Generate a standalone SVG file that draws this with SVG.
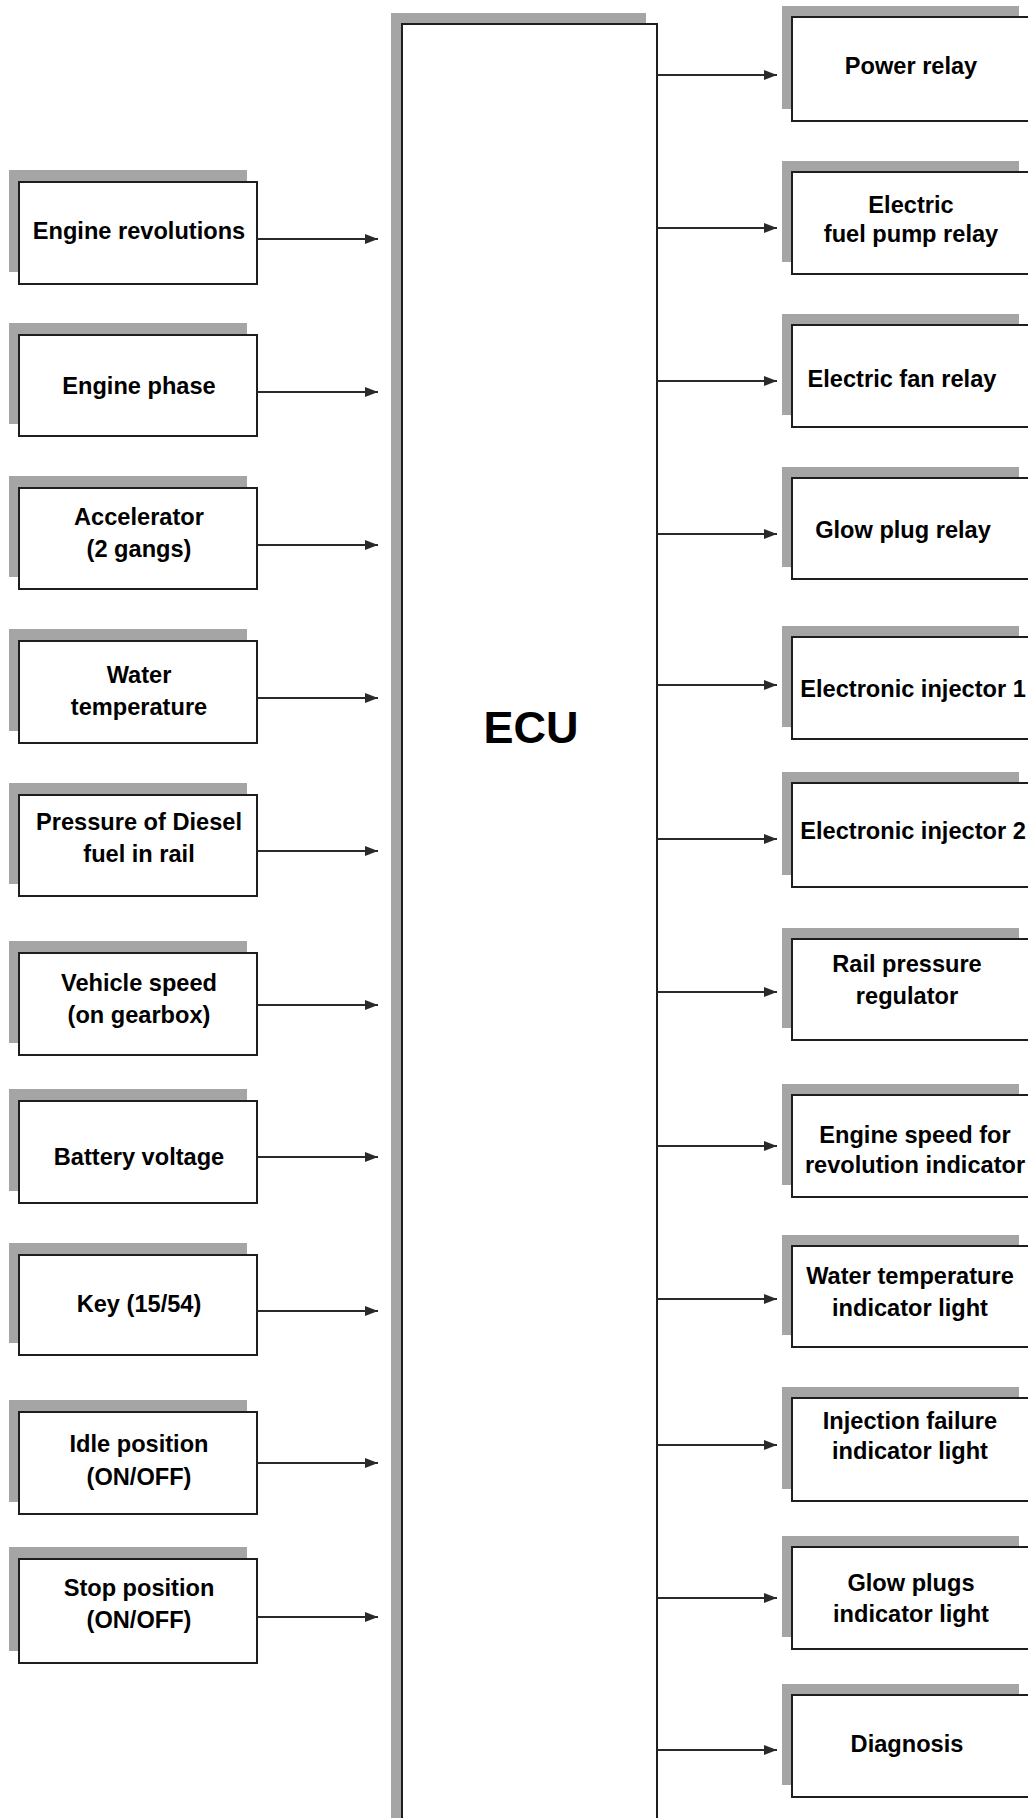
<svg xmlns="http://www.w3.org/2000/svg" width="1028" height="1818" viewBox="0 0 1028 1818">
<style>
.sh{fill:#a5a5a5}
.bx{fill:#fff;stroke:#1e1e1e;stroke-width:2}
.t{font-family:"Liberation Sans",Arial,sans-serif;font-weight:bold;font-size:23.6px;fill:#000;text-anchor:middle}
.ecu{font-family:"Liberation Sans",Arial,sans-serif;font-weight:bold;font-size:45px;fill:#000;text-anchor:middle}
.ar{stroke:#2a2a2a;stroke-width:1.8;fill:none;marker-end:url(#ah)}
</style>
<defs>
<marker id="ah" viewBox="0 0 13 10" refX="13" refY="5" markerWidth="13" markerHeight="10" markerUnits="userSpaceOnUse" orient="auto">
<path d="M0,0 L13,5 L0,10 z" fill="#2a2a2a"/>
</marker>
</defs>
<rect width="1028" height="1818" fill="#fff"/>

<g id="ecu">
<rect class="sh" x="391" y="13" width="255" height="1830"/>
<rect class="bx" x="402" y="24" width="255" height="1830"/>
<text class="ecu" x="531" y="743">ECU</text>
</g>

<g id="in-engine-revolutions"><rect class="sh" x="9" y="170" width="238" height="102"/><rect class="bx" x="19" y="182" width="238" height="102"/><text class="t" x="139" y="239">Engine revolutions</text></g>
<g id="in-engine-phase"><rect class="sh" x="9" y="323" width="238" height="101"/><rect class="bx" x="19" y="335" width="238" height="101"/><text class="t" x="139" y="394">Engine phase</text></g>
<g id="in-accelerator"><rect class="sh" x="9" y="476" width="238" height="101"/><rect class="bx" x="19" y="488" width="238" height="101"/><text class="t" x="139" y="525">Accelerator</text><text class="t" x="139" y="557">(2 gangs)</text></g>
<g id="in-water-temperature"><rect class="sh" x="9" y="629" width="238" height="102"/><rect class="bx" x="19" y="641" width="238" height="102"/><text class="t" x="139" y="683">Water</text><text class="t" x="139" y="715">temperature</text></g>
<g id="in-rail-pressure"><rect class="sh" x="9" y="783" width="238" height="101"/><rect class="bx" x="19" y="795" width="238" height="101"/><text class="t" x="139" y="830">Pressure of Diesel</text><text class="t" x="139" y="862">fuel in rail</text></g>
<g id="in-vehicle-speed"><rect class="sh" x="9" y="941" width="238" height="102"/><rect class="bx" x="19" y="953" width="238" height="102"/><text class="t" x="139" y="991">Vehicle speed</text><text class="t" x="139" y="1023">(on gearbox)</text></g>
<g id="in-battery-voltage"><rect class="sh" x="9" y="1089" width="238" height="102"/><rect class="bx" x="19" y="1101" width="238" height="102"/><text class="t" x="139" y="1165">Battery voltage</text></g>
<g id="in-key"><rect class="sh" x="9" y="1243" width="238" height="100"/><rect class="bx" x="19" y="1255" width="238" height="100"/><text class="t" x="139" y="1312">Key (15/54)</text></g>
<g id="in-idle-position"><rect class="sh" x="9" y="1400" width="238" height="102"/><rect class="bx" x="19" y="1412" width="238" height="102"/><text class="t" x="139" y="1452">Idle position</text><text class="t" x="139" y="1485">(ON/OFF)</text></g>
<g id="in-stop-position"><rect class="sh" x="9" y="1547" width="238" height="104"/><rect class="bx" x="19" y="1559" width="238" height="104"/><text class="t" x="139" y="1596">Stop position</text><text class="t" x="139" y="1628">(ON/OFF)</text></g>

<g id="out-power-relay"><rect class="sh" x="782" y="6" width="237" height="103"/><rect class="bx" x="792" y="17" width="240" height="104"/><text class="t" x="911" y="74">Power relay</text></g>
<g id="out-fuel-pump-relay"><rect class="sh" x="782" y="161" width="237" height="101"/><rect class="bx" x="792" y="172" width="240" height="102"/><text class="t" x="911" y="213">Electric</text><text class="t" x="911" y="242">fuel pump relay</text></g>
<g id="out-fan-relay"><rect class="sh" x="782" y="314" width="237" height="101"/><rect class="bx" x="792" y="325" width="240" height="102"/><text class="t" x="902" y="387">Electric fan relay</text></g>
<g id="out-glow-plug-relay"><rect class="sh" x="782" y="467" width="237" height="100"/><rect class="bx" x="792" y="478" width="240" height="101"/><text class="t" x="903" y="538">Glow plug relay</text></g>
<g id="out-injector-1"><rect class="sh" x="782" y="626" width="237" height="101"/><rect class="bx" x="792" y="637" width="240" height="102"/><text class="t" x="913" y="697">Electronic injector 1</text></g>
<g id="out-injector-2"><rect class="sh" x="782" y="772" width="237" height="103"/><rect class="bx" x="792" y="783" width="240" height="104"/><text class="t" x="913" y="839">Electronic injector 2</text></g>
<g id="out-rail-pressure-regulator"><rect class="sh" x="782" y="928" width="237" height="100"/><rect class="bx" x="792" y="939" width="240" height="101"/><text class="t" x="907" y="972">Rail pressure</text><text class="t" x="907" y="1004">regulator</text></g>
<g id="out-engine-speed"><rect class="sh" x="782" y="1084" width="237" height="101"/><rect class="bx" x="792" y="1095" width="240" height="102"/><text class="t" x="915" y="1143">Engine speed for</text><text class="t" x="915" y="1173">revolution indicator</text></g>
<g id="out-water-temp-light"><rect class="sh" x="782" y="1235" width="237" height="100"/><rect class="bx" x="792" y="1246" width="240" height="101"/><text class="t" x="910" y="1284">Water temperature</text><text class="t" x="910" y="1316">indicator light</text></g>
<g id="out-injection-failure-light"><rect class="sh" x="782" y="1387" width="237" height="102"/><rect class="bx" x="792" y="1398" width="240" height="103"/><text class="t" x="910" y="1429">Injection failure</text><text class="t" x="910" y="1459">indicator light</text></g>
<g id="out-glow-plugs-light"><rect class="sh" x="782" y="1536" width="237" height="101"/><rect class="bx" x="792" y="1547" width="240" height="102"/><text class="t" x="911" y="1591">Glow plugs</text><text class="t" x="911" y="1622">indicator light</text></g>
<g id="out-diagnosis"><rect class="sh" x="782" y="1684" width="237" height="101"/><rect class="bx" x="792" y="1695" width="240" height="102"/><text class="t" x="907" y="1752">Diagnosis</text></g>

<g id="connectors">
<line class="ar" x1="257" y1="239" x2="378" y2="239"/>
<line class="ar" x1="257" y1="392" x2="378" y2="392"/>
<line class="ar" x1="257" y1="545" x2="378" y2="545"/>
<line class="ar" x1="257" y1="698" x2="378" y2="698"/>
<line class="ar" x1="257" y1="851" x2="378" y2="851"/>
<line class="ar" x1="257" y1="1005" x2="378" y2="1005"/>
<line class="ar" x1="257" y1="1157" x2="378" y2="1157"/>
<line class="ar" x1="257" y1="1311" x2="378" y2="1311"/>
<line class="ar" x1="257" y1="1463" x2="378" y2="1463"/>
<line class="ar" x1="257" y1="1617" x2="378" y2="1617"/>
<line class="ar" x1="657" y1="75" x2="777" y2="75"/>
<line class="ar" x1="657" y1="228" x2="777" y2="228"/>
<line class="ar" x1="657" y1="381" x2="777" y2="381"/>
<line class="ar" x1="657" y1="534" x2="777" y2="534"/>
<line class="ar" x1="657" y1="685" x2="777" y2="685"/>
<line class="ar" x1="657" y1="839" x2="777" y2="839"/>
<line class="ar" x1="657" y1="992" x2="777" y2="992"/>
<line class="ar" x1="657" y1="1146" x2="777" y2="1146"/>
<line class="ar" x1="657" y1="1299" x2="777" y2="1299"/>
<line class="ar" x1="657" y1="1445" x2="777" y2="1445"/>
<line class="ar" x1="657" y1="1598" x2="777" y2="1598"/>
<line class="ar" x1="657" y1="1750" x2="777" y2="1750"/>
</g>
</svg>
